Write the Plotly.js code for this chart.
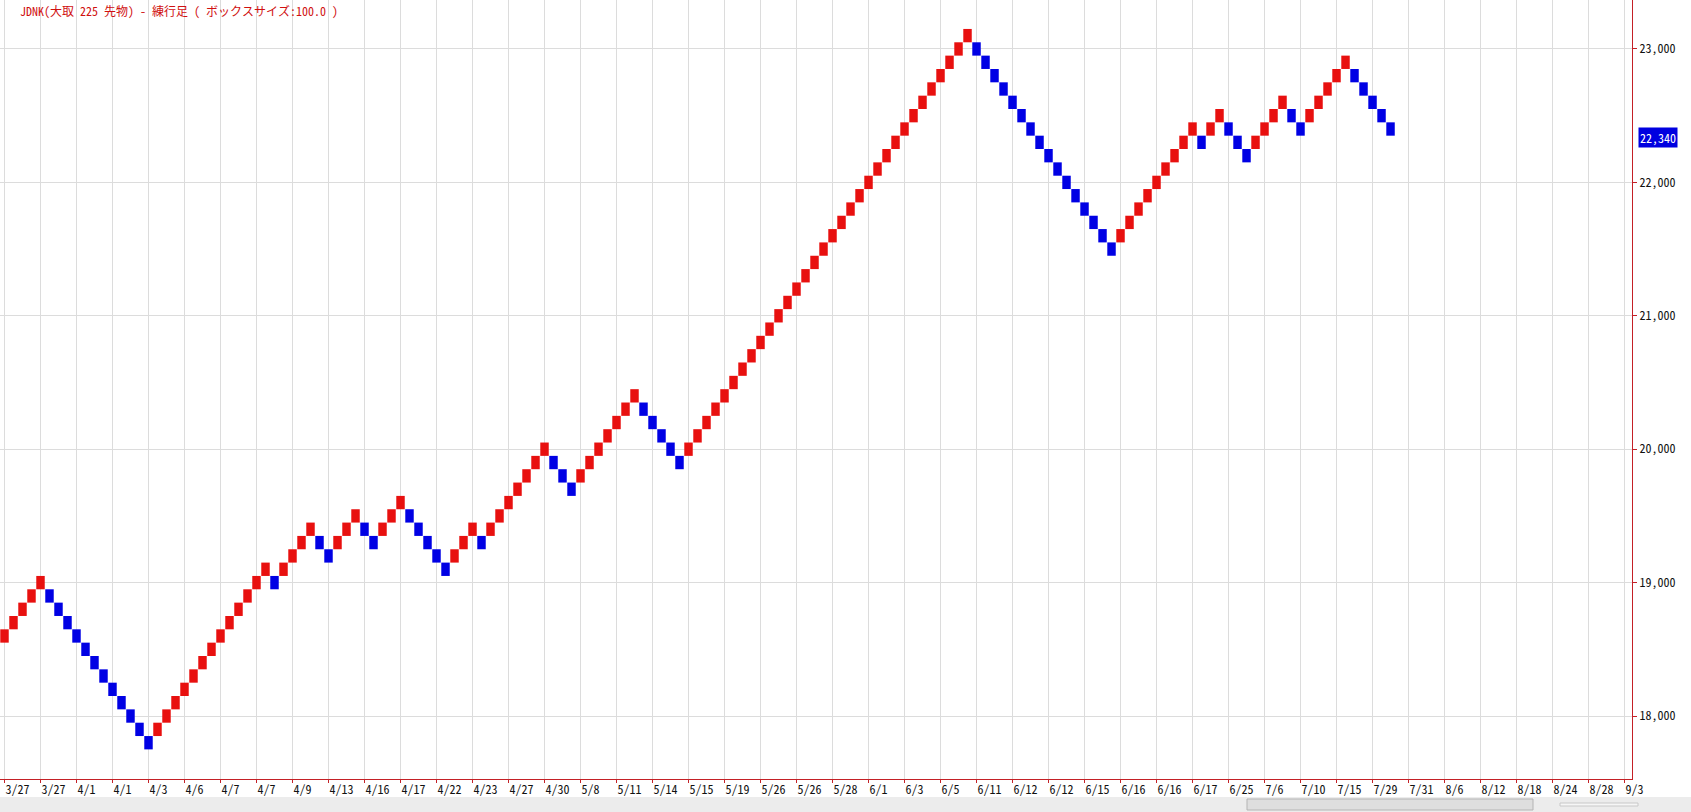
<!DOCTYPE html>
<html>
<head>
<meta charset="utf-8">
<script src="https://cdn.plot.ly/plotly-3.0.1.min.js"></script>
<style>
  html, body { margin: 0; padding: 0; background: #ffffff; }
  #chart { width: 1691px; height: 812px; }
</style>
</head>
<body>
<div id="chart"></div>
<script>
// ---- Data (renko boxes, box size 100) ----
const chartTitle = "JDNK(大取 225 先物) - 練行足 ( ボックスサイズ:100.0 )";
const boxSize = 100;
const lastPrice = 22340;

// Centre value of each renko box, left to right
const boxValues = [
  18600, 18700, 18800, 18900, 19000,
  18900, 18800, 18700, 18600, 18500, 18400, 18300, 18200, 18100, 18000, 17900, 17800,
  17900, 18000, 18100, 18200, 18300, 18400, 18500, 18600, 18700, 18800, 18900, 19000, 19100,
  19000,
  19100, 19200, 19300, 19400,
  19300, 19200,
  19300, 19400, 19500,
  19400, 19300,
  19400, 19500, 19600,
  19500, 19400, 19300, 19200, 19100,
  19200, 19300, 19400,
  19300,
  19400, 19500, 19600, 19700, 19800, 19900, 20000,
  19900, 19800, 19700,
  19800, 19900, 20000, 20100, 20200, 20300, 20400,
  20300, 20200, 20100, 20000, 19900,
  20000, 20100, 20200, 20300, 20400, 20500, 20600, 20700, 20800, 20900,
  21000, 21100, 21200, 21300, 21400, 21500, 21600, 21700, 21800, 21900,
  22000, 22100, 22200, 22300, 22400, 22500, 22600, 22700, 22800, 22900,
  23000, 23100,
  23000, 22900, 22800, 22700, 22600, 22500, 22400, 22300, 22200, 22100,
  22000, 21900, 21800, 21700, 21600, 21500,
  21600, 21700, 21800, 21900, 22000, 22100, 22200, 22300, 22400,
  22300,
  22400, 22500,
  22400, 22300, 22200,
  22300, 22400, 22500, 22600,
  22500, 22400,
  22500, 22600, 22700, 22800, 22900,
  22800, 22700, 22600, 22500, 22400
];

// Date labels along the bottom axis (one every 4 boxes)
const dateLabels = ['3/27','3/27','4/1','4/1','4/3','4/6','4/7','4/7','4/9','4/13','4/16','4/17',
  '4/22','4/23','4/27','4/30','5/8','5/11','5/14','5/15','5/19','5/26','5/26','5/28',
  '6/1','6/3','6/5','6/11','6/12','6/12','6/15','6/16','6/16','6/17','6/25','7/6',
  '7/10','7/15','7/29','7/31','8/6','8/12','8/18','8/24','8/28','9/3'];
const boxesPerLabel = 4;

const priceTicks = [18000, 19000, 20000, 21000, 22000, 23000];

// ---- Styling ----
const UP = '#e8100f';
const DOWN = '#0000e4';
const AXIS_RED = '#c42026';
const GRID = '#dcdcdc';
const MONO = "'Noto Sans Mono CJK JP', 'Noto Sans Mono CJK SC', 'DejaVu Sans Mono', 'Noto Sans CJK JP', monospace";

const xs = boxValues.map((v, i) => i);
const bases = boxValues.map(v => v - boxSize / 2);
const heights = boxValues.map(() => boxSize);
const colors = boxValues.map((v, i) => (i === 0 || v > boxValues[i - 1]) ? UP : DOWN);

const trace = {
  type: 'bar',
  x: xs,
  y: heights,
  base: bases,
  width: 0.94,
  marker: { color: colors, line: { width: 0 } },
  hoverinfo: 'skip',
  showlegend: false
};

const W = 1691, H = 812;
const plotRight = 1632, plotBottom = 779;

const layout = {
  width: W, height: H,
  margin: { l: 0, r: W - plotRight, t: 0, b: H - plotBottom, pad: 0 },
  paper_bgcolor: '#ffffff',
  plot_bgcolor: '#ffffff',
  showlegend: false,
  title: {
    text: chartTitle,
    x: 20 / W, xanchor: 'left', xref: 'container',
    y: 1 - 12 / H, yanchor: 'middle', yref: 'container',
    font: { family: MONO, size: 12, color: '#d01010' }
  },
  xaxis: {
    range: [-0.5, 180.83],
    tickmode: 'array',
    tickvals: dateLabels.map((d, k) => k * boxesPerLabel),
    ticktext: dateLabels,
    ticklabelposition: 'outside right',
    ticks: 'outside', ticklen: 3, tickcolor: AXIS_RED, tickwidth: 1,
    showgrid: true, gridcolor: GRID, gridwidth: 1,
    showline: true, linecolor: AXIS_RED, linewidth: 1,
    zeroline: false,
    tickfont: { family: MONO, size: 12, color: '#111111' },
    fixedrange: true
  },
  yaxis: {
    side: 'right',
    range: [17528, 23367],
    tickmode: 'array',
    tickvals: priceTicks,
    tickformat: ',d',
    ticks: 'outside', ticklen: 4, tickcolor: AXIS_RED, tickwidth: 1,
    showgrid: true, gridcolor: GRID, gridwidth: 1,
    showline: true, linecolor: AXIS_RED, linewidth: 1,
    zeroline: false,
    tickfont: { family: MONO, size: 12, color: '#111111' },
    fixedrange: true
  },
  annotations: [
    {
      xref: 'paper', yref: 'y',
      x: 1, y: lastPrice,
      xanchor: 'left', yanchor: 'middle',
      xshift: 6,
      text: lastPrice.toLocaleString('en-US'),
      showarrow: false,
      bgcolor: '#0000e0',
      borderpad: 1,
      font: { family: MONO, size: 12, color: '#ffffff' }
    }
  ],
  shapes: [
    // bottom scrollbar strip
    { type: 'rect', xref: 'paper', yref: 'paper', layer: 'below',
      x0: 0, x1: W / plotRight, y0: -(H - plotBottom) / plotBottom, y1: -(797 - plotBottom) / plotBottom,
      fillcolor: '#ececec', line: { width: 0 } },
    // scroll thumb
    { type: 'rect', xref: 'paper', yref: 'paper',
      x0: 1247 / plotRight, x1: 1533 / plotRight, y0: -(810 - plotBottom) / plotBottom, y1: -(799 - plotBottom) / plotBottom,
      fillcolor: '#dedede', line: { color: '#b4b4b4', width: 1 } },
    // slider track
    { type: 'rect', xref: 'paper', yref: 'paper',
      x0: 1560 / plotRight, x1: 1638 / plotRight, y0: -(806 - plotBottom) / plotBottom, y1: -(803 - plotBottom) / plotBottom,
      fillcolor: '#f6f6f6', line: { color: '#c8c8c8', width: 1 } }
  ]
};

Plotly.newPlot('chart', [trace], layout, { staticPlot: true, displayModeBar: false });
</script>
</body>
</html>
